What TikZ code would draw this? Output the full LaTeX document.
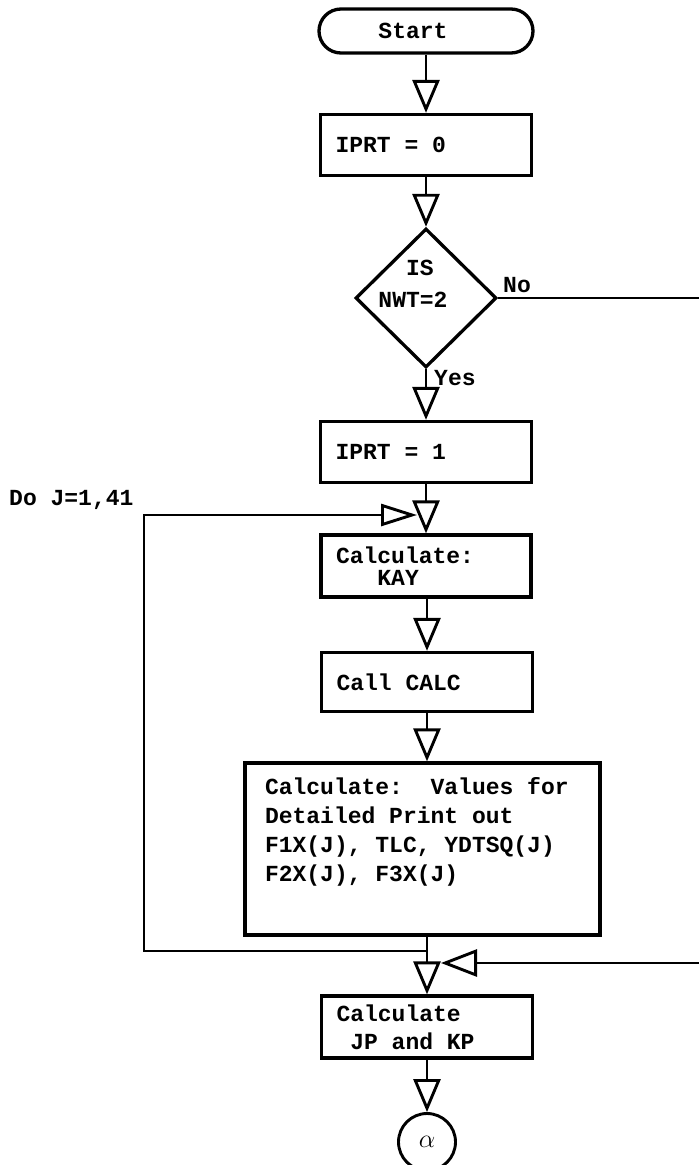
\documentclass[tikz,border=0pt]{standalone}
\usepackage{fontspec}
\newfontfamily\cour{Liberation Mono}
\usetikzlibrary{arrows.meta,shapes.geometric}
\newcommand{\bxt}[2][181pt]{\parbox{#1}{#2}}
\begin{document}
\begin{tikzpicture}[x=1pt,y=-1pt,
  every node/.style={font={\cour\bfseries\fontsize{23}{28}\selectfont}},
  box/.style={draw, line width=3.3pt, rectangle, minimum height=61pt, inner xsep=15pt, inner ysep=0pt},
  flow/.style={line width=2.9pt, -{Triangle[length=33pt,width=27pt,fill=white]}},
  plain/.style={line width=2.9pt},
  lbl/.style={inner sep=0pt, anchor=west}
]
\fill[white] (0,0) rectangle (699,1165);
\useasboundingbox (0,0) rectangle (699,1165);

% nodes
\node[draw, line width=3.3pt, rounded corners=22pt, minimum width=214pt, minimum height=44pt, inner sep=0pt] (start) at (426,31) {Start\hspace*{26pt}};
\node[box] (p0) at (426,145) {\bxt{IPRT = 0}};
\node[draw, diamond, line width=3.3pt, minimum width=141pt, minimum height=139pt, inner sep=0pt] (dec) at (426,298)
  {\raisebox{6pt}[0pt][0pt]{\begin{tabular}{@{}l@{}}\phantom{NW}IS\\[4pt]NWT=2\end{tabular}}\hspace*{26pt}};
\node[box] (p1) at (426,452) {\bxt{IPRT = 1}};
\node[box, minimum height=62pt] (kay) at (426,566) {\bxt[180pt]{Calculate:\\[-6pt]\phantom{Cal}KAY}};
\node[box, minimum height=59pt] (calc) at (427,682) {\bxt{Call CALC}};
\node[draw, line width=3.3pt, rectangle, minimum width=355pt, minimum height=172pt, inner sep=0pt] (big) at (422.5,849)
  {\parbox[c][144pt][t]{315pt}{\baselineskip=29pt Calculate:\ \ Values for\\Detailed Print out\\F1X(J), TLC, YDTSQ(J)\\F2X(J), F3X(J)}};
\node[box, minimum height=62pt] (jp) at (427,1027) {\bxt{Calculate\\\phantom{C}JP and KP}};
\node[draw, circle, line width=2.9pt, minimum size=57pt, inner sep=0pt] (alpha) at (427,1142) {\scalebox{1.05}{$\alpha$}};

% labels
\node[lbl] (no) at (503,285) {No};
\node[lbl] (yes) at (434,378) {Yes};
\node[lbl] (doj) at (9,500) {Do J=1,41};

% coordinates for free ends and junctions
\coordinate (jl) at (427,951);
\coordinate (lc1) at (144,951);
\coordinate (lc2) at (144,515);
\coordinate (ltip) at (417,515);
\coordinate (noend) at (699,298);
\coordinate (rend) at (699,963);
\coordinate (rtip) at (441,963);

% connectors
\draw[flow] (start) -- (p0);
\draw[flow] (p0) -- (dec);
\draw[flow] (dec) -- (p1);
\draw[flow] (p1.south) -- (p1.south |- kay.north);
\draw[flow] (kay.south) -- (kay.south -| calc.north) -- (calc.north);
\draw[flow] (calc.south) -- (calc.south |- big.north);
\draw[flow] (big.south -| jp.north) -- (jp.north);
\draw[flow] (jp) -- (alpha);
\draw[plain] (dec.east) -- (noend);
\draw[plain, -{Triangle[length=36pt,width=22pt,fill=white]}] (jl) -- (lc1) -- (lc2) -- (ltip);
\draw[plain, -{Triangle[length=36pt,width=27pt,fill=white]}] (rend) -- (rtip);
\end{tikzpicture}
\end{document}
